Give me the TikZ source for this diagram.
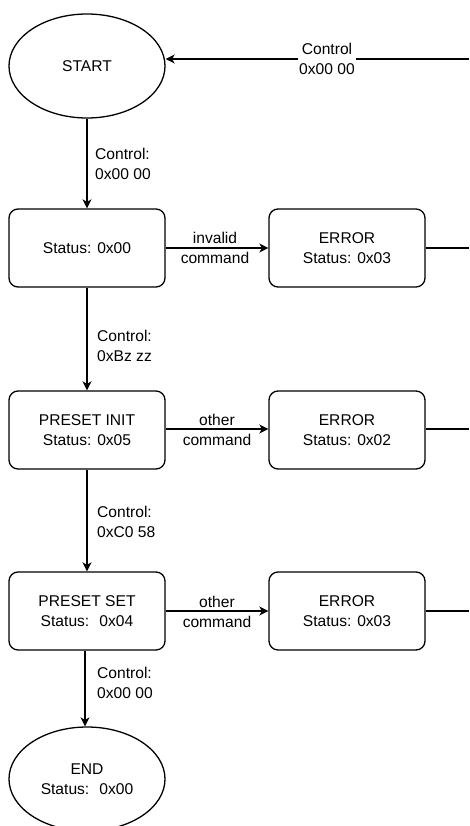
\documentclass[tikz,border=0pt]{standalone}
\usepackage{fontspec}
\setmainfont{Liberation Sans}
\usetikzlibrary{shapes.geometric,arrows.meta}
\begin{document}
\begin{tikzpicture}[x=1pt,y=-1pt,
  every node/.style={font=\fontsize{15.6}{19.5}\selectfont, inner sep=0pt},
  lw/.style={line width=1.3pt},
  state/.style={lw, draw, rectangle, rounded corners=9pt, minimum width=156pt, minimum height=78pt, align=center},
  term/.style={lw, draw, ellipse, minimum width=156pt, minimum height=104pt, align=center},
  arr/.style={lw, -{Stealth[length=9pt,width=9pt,inset=2.5pt]}},
  lab/.style={align=center},
  vlab/.style={align=left, anchor=west}]
\useasboundingbox (0,0) rectangle (469,826);
\begin{scope}
\clip (0,0) rectangle (469,826);
\node[term] (start) at (87,66) {START};
\node[state] (s1) at (87,248) {Status: 0x00};
\node[state] (e1) at (347,248) {ERROR\\Status: 0x03};
\node[state] (s2) at (87,430) {PRESET INIT\\Status: 0x05};
\node[state] (e2) at (347,430) {ERROR\\Status: 0x02};
\node[state] (s3) at (87,611) {PRESET SET\\Status:~ 0x04};
\node[state] (e3) at (347,611) {ERROR\\Status: 0x03};
\node[term] (end) at (87,779) {END\\Status:~ 0x00};

\coordinate (in1) at (469,59);
\coordinate (o1) at (469,248);
\coordinate (o2) at (469,429);
\coordinate (o3) at (469,611);

\draw[arr] (in1) -- (start.east |- in1);
\node[lab, fill=white, inner xsep=1pt] (l0) at (327,59) {Control\\0x00 00};

\draw[arr] (start.south) -- (s1.north);
\node[vlab] (l1) at (95,164) {Control:\\0x00 00};

\draw[arr] (s1.east) -- (e1.west);
\node[lab] (l2) at (215,248) {invalid\\command};
\draw[lw] (e1.east) -- (o1);

\draw[arr] (s1.south) -- (s2.north);
\node[vlab] (l3) at (97,346) {Control:\\0xBz zz};

\draw[arr] (s2.east |- o2) -- (e2.west |- o2);
\node[lab] (l4) at (217,430) {other\\command};
\draw[lw] (e2.east |- o2) -- (o2);

\draw[arr] (s2.south) -- (s3.north);
\node[vlab] (l5) at (97,522) {Control:\\0xC0 58};

\draw[arr] (s3.east) -- (e3.west);
\node[lab] (l6) at (217,612) {other\\command};
\draw[lw] (e3.east) -- (o3);

\draw[arr] ([xshift=-2pt]s3.south) -- ([xshift=-2pt]end.north);
\node[vlab] (l7) at (97,683) {Control:\\0x00 00};
\end{scope}
\end{tikzpicture}
\end{document}
